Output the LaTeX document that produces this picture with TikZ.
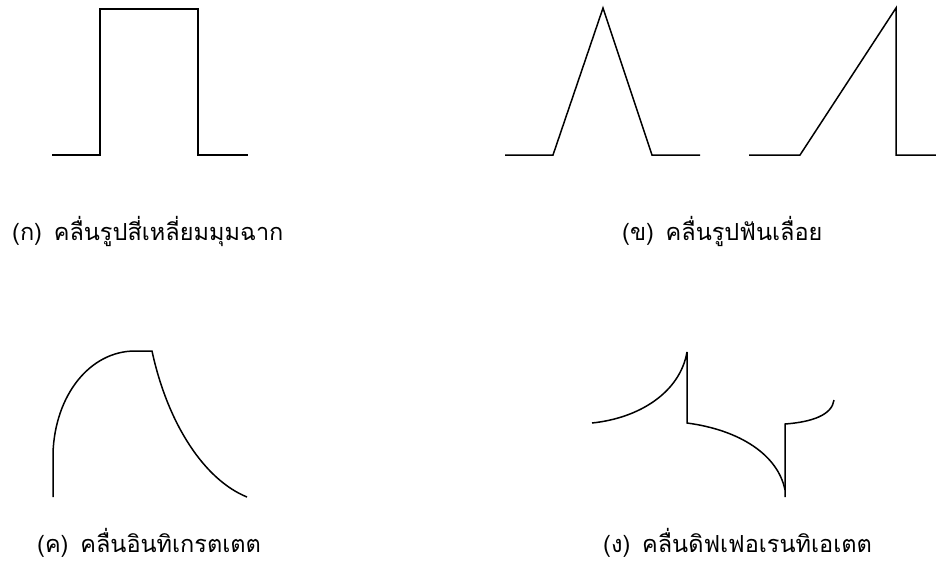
\documentclass[tikz,border=0pt]{standalone}
\usepackage{fontspec}
\newfontfamily\thaifont[Script=Thai]{Loma}
\usetikzlibrary{positioning}
\tikzset{
  wave/.style={line width=1.5pt,draw=black,line join=miter},
  wlabel/.style={font=\thaifont\fontsize{23.5}{27}\selectfont,anchor=west,inner sep=0pt}
}
\begin{document}
\begin{tikzpicture}[x=1pt,y=-1pt]
  \useasboundingbox (0,0) rectangle (936,563);
  \draw[wave,line width=2pt] (52,155) -- (100,155) -- (100,9) -- (198,9) -- (198,155) -- (248,155);
  \draw[wave] (505,155) -- (553,155) -- (603,8) -- (652,155) -- (700,155);
  \draw[wave] (749,155) -- (800,155) -- (896,8) -- (896,155) -- (936,155);
  \draw[wave] (53,497) -- (53,453) .. controls (55,395) and (90,351) .. (135,351)
     -- (152,351) .. controls (168,425) and (205,480) .. (247,497);
  \draw[wave] (592,423) .. controls (640,418) and (680,392) .. (687,352) -- (687,423)
     .. controls (740,430) and (778,455) .. (785,490);
  \draw[wave] (785,497) -- (785,424) .. controls (812,422) and (832,415) .. (834,400);
  \node[wlabel] (lblka) at (12,231) {(ก)\hspace{0.5em}คลื่นรูปสี่เหลี่ยมมุมฉาก};
  \node[wlabel] (lblkho) at (622,231) {(ข)\hspace{0.5em}คลื่นรูปฟันเลื่อย};
  \node[wlabel] (lblkho2) at (37,543) {(ค)\hspace{0.5em}คลื่นอินทิเกรตเตต};
  \node[wlabel] (lblngo) at (603,543) {(ง)\hspace{0.5em}คลื่นดิฟเฟอเรนทิเอเตต};
\end{tikzpicture}
\end{document}
